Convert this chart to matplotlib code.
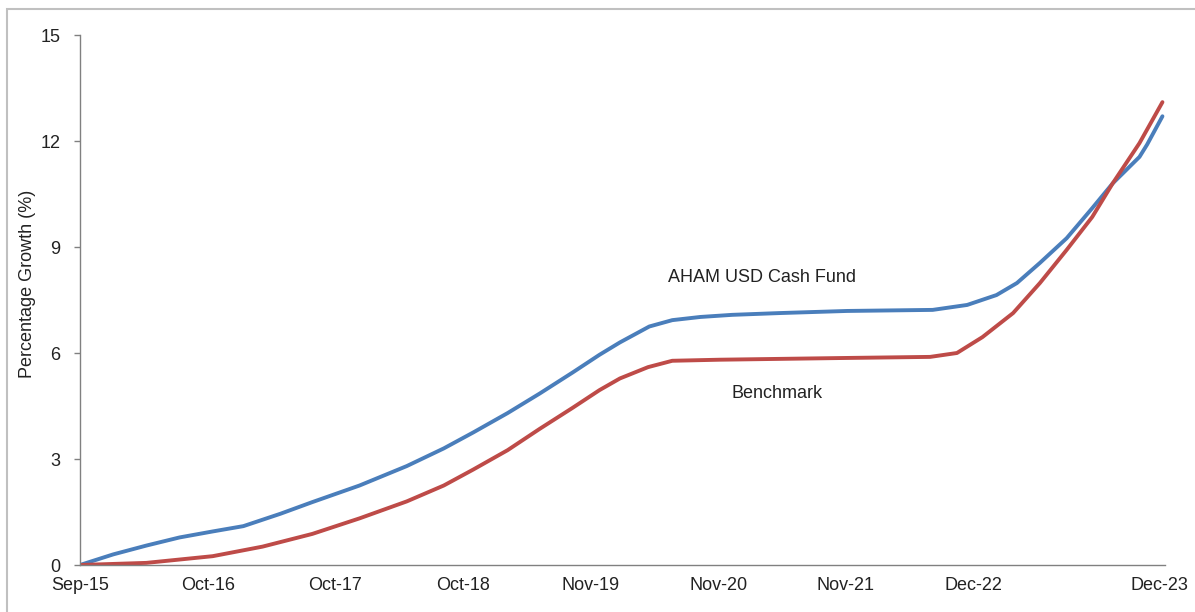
import matplotlib.pyplot as plt
from matplotlib.patches import Rectangle

plt.rcParams['font.family'] = ['Liberation Sans', 'DejaVu Sans']

# x positions are in tick-label steps (Sep-15 = 0, Oct-16 = 1, ...)
tick_pos = [0, 1, 2, 3, 4, 5, 6, 7, 8.46]
tick_labels = ['Sep-15', 'Oct-16', 'Oct-17', 'Oct-18', 'Nov-19',
               'Nov-20', 'Nov-21', 'Dec-22', 'Dec-23']

fund_x = [0.0, 0.26, 0.52, 0.78, 1.04, 1.28, 1.57, 1.82, 2.19, 2.56, 2.85,
          3.08, 3.35, 3.60, 3.86, 4.07, 4.23, 4.46, 4.64, 4.86, 5.11, 5.48,
          6.01, 6.68, 6.95, 7.18, 7.34, 7.52, 7.73, 7.93, 8.09, 8.30, 8.36,
          8.48]
fund_y = [0.0, 0.30, 0.55, 0.78, 0.95, 1.10, 1.45, 1.78, 2.25, 2.80, 3.30,
          3.75, 4.30, 4.85, 5.45, 5.95, 6.30, 6.75, 6.93, 7.02, 7.08, 7.13,
          7.19, 7.22, 7.36, 7.64, 7.98, 8.55, 9.25, 10.10, 10.80, 11.55,
          11.90, 12.70]

bench_x = [0.0, 0.52, 1.04, 1.43, 1.82, 2.19, 2.56, 2.85, 3.08, 3.35, 3.60,
           3.86, 4.07, 4.23, 4.45, 4.64, 5.01, 6.01, 6.66, 6.87, 7.07, 7.31,
           7.52, 7.73, 7.93, 8.09, 8.30, 8.48]
bench_y = [0.0, 0.06, 0.25, 0.52, 0.88, 1.32, 1.80, 2.25, 2.70, 3.25, 3.85,
           4.45, 4.95, 5.28, 5.60, 5.78, 5.81, 5.86, 5.89, 6.00, 6.45, 7.13,
           7.98, 8.92, 9.85, 10.80, 11.94, 13.10]

fig = plt.figure(figsize=(11.95, 6.12), dpi=100)
fig.patches.append(Rectangle((7 / 1195, -0.1), 1.2, (612 - 9) / 612 + 0.1,
                             transform=fig.transFigure, fill=False,
                             edgecolor='#c0c0c0', linewidth=1.5))

ax = fig.add_axes([80 / 1195, 1 - 565 / 612, 1085 / 1195, 530 / 612])
ax.plot(fund_x, fund_y, color='#4a7ebb', linewidth=2.8,
        solid_capstyle='round', solid_joinstyle='round')
ax.plot(bench_x, bench_y, color='#be4b48', linewidth=2.8,
        solid_capstyle='round', solid_joinstyle='round')

ax.text(5.34, 8.15, 'AHAM USD Cash Fund', fontsize=13, ha='center', va='center', color='#222222')
ax.text(5.46, 4.84, 'Benchmark', fontsize=13, ha='center', va='center', color='#222222')

ax.set_xlim(0, 8.5)
ax.set_ylim(0, 15)
ax.set_yticks([0, 3, 6, 9, 12, 15])
ax.set_xticks(tick_pos)
ax.set_xticklabels(tick_labels)
ax.tick_params(axis='y', length=4, width=1, color='#808080', pad=10, labelsize=13, labelcolor='#222222')
ax.tick_params(axis='x', length=0, pad=9, labelsize=13, labelcolor='#222222')

for s in ['top', 'right']:
    ax.spines[s].set_visible(False)
for s in ['left', 'bottom']:
    ax.spines[s].set_color('#808080')
    ax.spines[s].set_linewidth(1)

ax.set_ylabel('Percentage Growth (%)', fontsize=13, color='#222222')
ax.yaxis.set_label_coords(-0.041, 0.53)

fig.savefig('out.png', dpi=100)
